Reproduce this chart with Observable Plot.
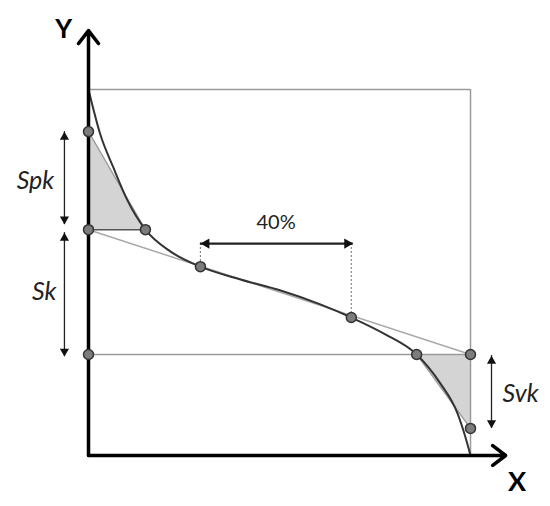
<!DOCTYPE html>
<html>
<head>
<meta charset="utf-8">
<script src="https://cdn.jsdelivr.net/npm/d3@7"></script>
<script src="https://cdn.jsdelivr.net/npm/@observablehq/plot@0.6"></script>
<style>
  html, body { margin: 0; padding: 0; background: #fff; }
  svg { display: block; }
</style>
</head>
<body>
<div id="chart"></div>
<script>
// Material ratio (Abbott-Firestone) curve, x = material ratio %, y = height %
const curveX = [0, 3.1, 6.5, 10.2, 14.9, 21.5, 29.3, 39.8, 50.3, 60.7, 68.8, 77.7, 85.9, 92.1, 96.6, 98.7, 100];
const curveY = [100, 87.7, 78.7, 69.7, 61.7, 55.7, 51.6, 48.1, 45.1, 41.3, 37.7, 33.1, 27.6, 19.7, 11.5, 4.9, 0];

// key points
const pointX = [0, 0, 14.9, 29.3, 68.8, 85.9, 100, 100, 0];
const pointY = [88.5, 61.7, 61.7, 51.6, 37.7, 27.6, 27.6, 7.4, 27.6];

// equivalent straight line through the 40 % secant
const secantX = [0, 100];
const secantY = [61.7, 27.6];

// 40 % window
const windowStart = 29.3;
const windowEnd = 69.3;
const windowArrowY = 57.9;

// vertical dimension arrows
const dimNames = ["Spk", "Sk", "Svk"];
const dimX = [-6.3, -6.3, 105.5];
const dimTop = [88.5, 60.9, 27.3];
const dimBottom = [63.1, 27.0, 7.4];
const dimLabelX = [-13.9, -11.6, 113.1];
const dimLabelY = [74.9, 44.7, 16.7];

// axis extents
const axisXEnd = 109.2;
const axisYEnd = 116.1;

const curve = curveX.map((x, i) => ({x, y: curveY[i]}));
const points = pointX.map((x, i) => ({x, y: pointY[i]}));
const secant = secantX.map((x, i) => ({x, y: secantY[i]}));
const dims = dimNames.map((name, i) => ({name, x: dimX[i], top: dimTop[i], bottom: dimBottom[i], lx: dimLabelX[i], ly: dimLabelY[i]}));

const peakTri = [{x: pointX[0], y: pointY[0]}, {x: pointX[2], y: pointY[2]}];
const valleyTri = [{x: pointX[5], y: pointY[5]}, {x: pointX[7], y: pointY[7]}];

const winLines = [
  {x: windowStart, y1: windowArrowY, y2: curveY[6]},
  {x: windowEnd - 0.5, y1: windowArrowY, y2: curveY[10]}
];

const headR = 3.4;
const headOff = 5.4;
const font = "Lato, 'Open Sans', sans-serif";

const chart = Plot.plot({
  width: 550,
  height: 506,
  marginLeft: 88,
  marginRight: 80,
  marginTop: 89,
  marginBottom: 51,
  x: {domain: [0, 100], axis: null},
  y: {domain: [0, 100], axis: null},
  style: {background: "#fff", fontFamily: font},
  marks: [
    // shaded peak / valley areas
    Plot.areaX(peakTri, {y: "y", x1: 0, x2: "x", fill: "#d4d4d4"}),
    Plot.areaX(valleyTri, {y: "y", x1: "x", x2: 100, fill: "#d4d4d4"}),
    // bounding box (top and right)
    Plot.ruleY([100], {x1: 0, x2: 100, stroke: "#9a9a9a", strokeWidth: 1.5}),
    Plot.ruleX([100], {y1: 0, y2: 100, stroke: "#9a9a9a", strokeWidth: 1.5}),
    // Sk lower level
    Plot.ruleY([pointY[8]], {x1: 0, x2: 100, stroke: "#9a9a9a", strokeWidth: 1.5}),
    // Sk upper level to curve
    Plot.ruleY([pointY[1]], {x1: 0, x2: pointX[2], stroke: "#555", strokeWidth: 1.5}),
    // secant line
    Plot.line(secant, {x: "x", y: "y", stroke: "#a8a8a8", strokeWidth: 1.5}),
    // triangle hypotenuses
    Plot.line(peakTri, {x: "x", y: "y", stroke: "#9a9a9a", strokeWidth: 1.3}),
    Plot.line(valleyTri, {x: "x", y: "y", stroke: "#9a9a9a", strokeWidth: 1.3}),
    // material ratio curve
    Plot.line(curve, {x: "x", y: "y", curve: "monotone-x", stroke: "#333", strokeWidth: 2}),
    // dotted window lines
    Plot.ruleX(winLines, {x: "x", y1: "y1", y2: "y2", stroke: "#888", strokeWidth: 1.2, strokeDasharray: "2,2"}),
    // axes
    Plot.arrow([{x1: 0, y1: 0, x2: 0, y2: axisYEnd}], {x1: "x1", y1: "y1", x2: "x2", y2: "y2", stroke: "#000", strokeWidth: 3.5, headLength: 7, headAngle: 75}),
    Plot.arrow([{x1: 0, y1: 0, x2: axisXEnd, y2: 0}], {x1: "x1", y1: "y1", x2: "x2", y2: "y2", stroke: "#000", strokeWidth: 3.5, headLength: 7, headAngle: 75}),
    // dimension arrows
    Plot.ruleX(dims, {x: "x", y1: d => d.top, y2: d => d.bottom, stroke: "#222", strokeWidth: 1.3}),
    Plot.dot(dims, {x: "x", y: "top", symbol: "triangle", r: headR, fill: "#111", stroke: "none", dy: headOff}),
    Plot.dot(dims, {x: "x", y: "bottom", symbol: "triangle", r: headR, fill: "#111", stroke: "none", rotate: 180, dy: -headOff}),
    // 40% arrow
    Plot.ruleY([windowArrowY], {x1: windowStart, x2: windowEnd, stroke: "#222", strokeWidth: 2.2}),
    Plot.dot([windowStart], {x: d => d, y: windowArrowY, symbol: "triangle", r: 3.8, fill: "#111", stroke: "none", rotate: -90, dx: 6}),
    Plot.dot([windowEnd], {x: d => d, y: windowArrowY, symbol: "triangle", r: 3.8, fill: "#111", stroke: "none", rotate: 90, dx: -6}),
    // key points
    Plot.dot(points, {x: "x", y: "y", r: 5, fill: "#7c7c7c", stroke: "#333", strokeWidth: 1.5}),
    // labels
    Plot.text(dims, {x: "lx", y: "ly", text: "name", fontSize: 25, fontStyle: "italic", fill: "#222"}),
    Plot.text(["40%"], {x: 49.1, y: 63.5, text: d => d, fontSize: 20, fill: "#222"}),
    Plot.text(["Y"], {x: -6.5, y: 116.4, text: d => d, fontSize: 26, fontWeight: "bold", fill: "#000"}),
    Plot.text(["X"], {x: 112.2, y: -7.4, text: d => d, fontSize: 27, fontWeight: "bold", fill: "#000"})
  ]
});
document.getElementById("chart").appendChild(chart);
</script>
</body>
</html>
